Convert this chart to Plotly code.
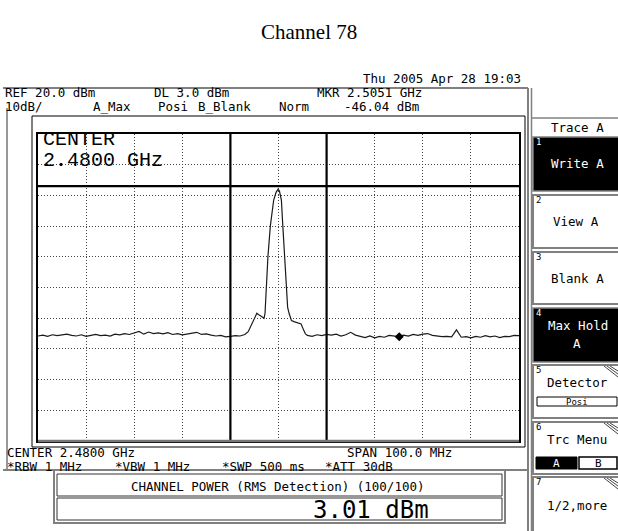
import plotly.graph_objects as go

# ---------------- data ----------------
title_text = "Channel 78"

freq_mhz = [
    2430, 2431, 2432, 2433, 2434, 2435, 2436, 2437, 2438, 2439,
    2440, 2441, 2442, 2443, 2444, 2445, 2446, 2447, 2448, 2449,
    2450, 2451, 2452, 2453, 2454, 2455, 2456, 2457, 2458, 2459,
    2460, 2461, 2462, 2463, 2464, 2465, 2466, 2467, 2468, 2469,
    2470, 2471, 2472, 2473,
    2473.7, 2474.2, 2474.8, 2475.5, 2476.0, 2476.4, 2477.0, 2477.2,
    2477.5, 2477.8, 2478.3, 2479.0, 2479.5, 2479.9, 2480.2, 2480.6,
    2480.9, 2481.3, 2481.6, 2481.9, 2482.2, 2482.7, 2483.2, 2483.7,
    2484.2, 2484.7, 2485.2, 2485.6,
    2486, 2487, 2488, 2489, 2490, 2491, 2492, 2493, 2494, 2495,
    2496, 2497, 2498, 2499, 2500, 2501, 2502, 2503, 2504, 2505,
    2506, 2507, 2508, 2509, 2510, 2511, 2512, 2513, 2514, 2515,
    2516, 2517, 2518, 2519, 2520, 2521, 2522, 2523, 2524, 2525,
    2526, 2527, 2528, 2529, 2530,
]
level_dbm = [
    -45.8, -45.5, -45.9, -45.4, -45.7, -45.5, -45.2, -45.6, -45.8, -45.4,
    -45.9, -45.6, -45.3, -45.7, -45.5, -45.8, -45.2, -45.4, -45.0, -45.3,
    -44.9, -44.3, -45.2, -44.5, -45.0, -44.8, -45.1, -44.7, -45.3, -45.0,
    -45.4, -45.1, -44.9, -44.6, -45.3, -45.1, -45.5, -45.8, -45.6, -46.1,
    -45.9, -45.7, -45.8, -45.3,
    -44.4, -42.7, -40.6, -38.4, -39.0, -39.5, -40.0, -38.4,
    -28.6, -20.0, -10.0, -1.5, 1.0, 2.0, 1.4, -1.5,
    -10.0, -20.0, -29.0, -36.5, -38.4, -40.8, -41.1, -41.4,
    -41.6, -41.9, -43.8, -45.1,
    -45.6, -45.9, -45.4, -45.7, -45.3, -45.5, -45.2, -45.8, -45.4, -44.6,
    -45.5, -45.9, -46.3, -45.8, -46.4, -45.9, -46.2, -45.6, -45.9, -46.0,
    -45.5, -45.8, -45.3, -45.6, -45.2, -45.0, -45.6, -45.8, -46.0, -45.9,
    -46.1, -43.8, -46.2, -46.0, -46.4, -45.9, -46.2, -45.7, -46.1, -45.8,
    -46.3, -45.9, -46.0, -45.6, -45.7,
]
marker_freq = [2505.1]
marker_level = [-46.04]
channel_edges_mhz = [2470, 2490]
display_line_dbm = 3.0
ref_level_dbm = 20.0
db_per_div = 10
center_mhz = 2480.0
span_mhz = 100.0

header_date = "Thu 2005 Apr 28 19:03"
header_row1 = ["REF 20.0 dBm", "DL 3.0 dBm", "MKR 2.5051 GHz"]
header_row2 = ["10dB/", "A_Max", "Posi", "B_Blank", "Norm", "-46.04 dBm"]
footer_row1 = ["CENTER 2.4800 GHz", "SPAN 100.0 MHz"]
footer_row2 = ["*RBW 1 MHz", "*VBW 1 MHz", "*SWP 500 ms", "*ATT 30dB"]
center_label = ["CENTER", "2.4800 GHz"]
chpow_header = "CHANNEL POWER (RMS Detection) (100/100)"
chpow_value = "3.01 dBm"
menu_title = "Trace A"
softkeys = ["Write A", "View A", "Blank A", "Max Hold", "Detector", "Trc Menu", "1/2,more"]

# ---------------- geometry helpers ----------------
W, H = 618, 531
X0, X1 = 38, 519
Y0, Y1 = 134, 441
MONO = "DejaVu Sans Mono"
COUR = "Liberation Mono"
GRAY = "#808080"


def px(x):
    return (x - X0) / (X1 - X0)


def py(y):
    return (Y1 - y) / (Y1 - Y0)


shapes = []
annotations = []


def rect(x0, y0, x1, y1, fill="rgba(0,0,0,0)", line="#000", lw=1):
    shapes.append(dict(type="rect", xref="paper", yref="paper",
                       x0=px(x0), x1=px(x1), y0=py(y1), y1=py(y0),
                       fillcolor=fill, line=dict(color=line, width=lw), layer="above"))


def seg(x0, y0, x1, y1, color="#000", lw=1):
    shapes.append(dict(type="line", xref="paper", yref="paper",
                       x0=px(x0), x1=px(x1), y0=py(y0), y1=py(y1),
                       line=dict(color=color, width=lw), layer="above"))


def txt(x, y, s, size=12.5, color="#000", anchor="left", family=MONO):
    annotations.append(dict(x=px(x), y=py(y), xref="paper", yref="paper", text=s,
                            showarrow=False, xanchor=anchor, yanchor="middle",
                            borderpad=0, font=dict(family=family, size=size, color=color)))


# ---------------- figure ----------------
fig = go.Figure()
fig.add_trace(go.Scatter(x=freq_mhz, y=level_dbm, mode="lines",
                         line=dict(color="#1a1a1a", width=1.2), hoverinfo="skip"))
fig.add_trace(go.Scatter(x=marker_freq, y=marker_level, mode="markers",
                         marker=dict(symbol="diamond", size=7, color="#000"), hoverinfo="skip"))

x_lo = center_mhz - span_mhz / 2
x_hi = center_mhz + span_mhz / 2
y_hi = ref_level_dbm
y_lo = ref_level_dbm - 10 * db_per_div

# channel power window and display line
for f in channel_edges_mhz:
    shapes.append(dict(type="line", xref="x", yref="y", x0=f, x1=f, y0=y_lo, y1=y_hi,
                       line=dict(color="#000", width=2.2), layer="above"))
shapes.append(dict(type="line", xref="x", yref="y", x0=x_lo, x1=x_hi,
                   y0=display_line_dbm, y1=display_line_dbm,
                   line=dict(color="#000", width=2.2), layer="above"))
# bottom graticule edge (gray)
seg(X0, Y1, X1, Y1, color="#777", lw=2.5)

# outer & inner frames
seg(3, 88, 528, 88, color=GRAY, lw=2)
seg(7, 108, 7, 470, color="#333", lw=1)
seg(3, 470, 54, 470, color=GRAY, lw=2)
seg(505, 470, 528, 470, color=GRAY, lw=2)
rect(32, 116, 525, 447, line="#000", lw=1)
seg(528, 88, 528, 531, color=GRAY, lw=2)
seg(531.5, 88, 531.5, 531, color=GRAY, lw=1.5)

# channel power box
rect(54, 470, 505, 523, line=GRAY, lw=2)
rect(57, 474, 502, 496, line="#333", lw=1)
rect(57, 498, 502, 520, line="#333", lw=1)

# header text
txt(362, 79, header_date)
for s, x in zip(header_row1, [4, 153, 316]):
    txt(x, 93, s)
for s, x in zip(header_row2, [4, 92, 157, 197, 278, 343]):
    txt(x, 107, s)
for s, x in zip(footer_row1, [6, 346]):
    txt(x, 452, s)
for s, x in zip(footer_row2, [6, 114, 221, 324]):
    txt(x, 466, s)

txt(42, 139, center_label[0], size=20, family=COUR)
txt(42, 160, center_label[1], size=20, family=COUR)

txt(278, 486, chpow_header, anchor="center")
txt(430, 510, chpow_value, size=24, anchor="right")

# soft-key panel
PX0, PX1 = 533, 625
seg(531, 118, 618, 118, color=GRAY, lw=1.5)
txt(577, 127, menu_title, anchor="center")
keys = [(137, 191, True), (195, 248, False), (252, 304, False), (308, 362, True),
        (365, 418, False), (422, 474, False), (477, 540, False)]
for i, (ya, yb, dark) in enumerate(keys):
    if dark:
        rect(PX0, ya, PX1, yb, fill="#000", line=GRAY, lw=1.5)
    else:
        rect(PX0, ya, PX1, yb, fill="#fff", line=GRAY, lw=2)
    txt(535, ya + 5, str(i + 1), size=9, color="#fff" if dark else "#000")
    if i >= 4:
        for k in range(3):
            seg(604 + 3 * k, ya + 1, 618, ya + 12 - 3 * k, color="#444", lw=1)

txt(577, 163, softkeys[0], color="#fff", anchor="center")
txt(576, 221, softkeys[1], anchor="center")
txt(577, 278, softkeys[2], anchor="center")
txt(578, 325, softkeys[3], color="#fff", anchor="center")
txt(577, 343, "A", color="#fff", anchor="center")
txt(577, 382, softkeys[4], anchor="center")
rect(537, 397, 617, 406, line="#000", lw=1)
txt(577, 401.5, "Posi", size=9, anchor="center")
txt(577, 439, softkeys[5], anchor="center")
rect(536, 457, 577, 469, fill="#000", line="#000", lw=1)
rect(579, 457, 617, 469, fill="#fff", line="#000", lw=1.5)
txt(556, 463, "A", size=11, color="#fff", anchor="center")
txt(598, 463, "B", size=11, anchor="center")
txt(577, 505, softkeys[6], anchor="center")

# title
txt(309, 32, title_text, size=21, family="Liberation Serif", anchor="center")

axis_common = dict(showticklabels=False, ticks="", zeroline=False, showgrid=True,
                   griddash="1px,2px", gridcolor="#444", gridwidth=1,
                   showline=True, mirror=True, linecolor="#000", linewidth=1.5)
fig.update_layout(
    width=W, height=H, autosize=False,
    margin=dict(l=X0, r=W - X1, t=Y0, b=H - Y1, pad=0),
    paper_bgcolor="#fff", plot_bgcolor="#fff",
    showlegend=False,
    xaxis=dict(range=[x_lo, x_hi], tick0=x_lo, dtick=10, **axis_common),
    yaxis=dict(range=[y_lo, y_hi], tick0=y_lo, dtick=db_per_div, **axis_common),
    shapes=shapes, annotations=annotations,
)
fig.write_html("out.html", config={"displayModeBar": False},
               post_script="document.body.style.margin='0';")
